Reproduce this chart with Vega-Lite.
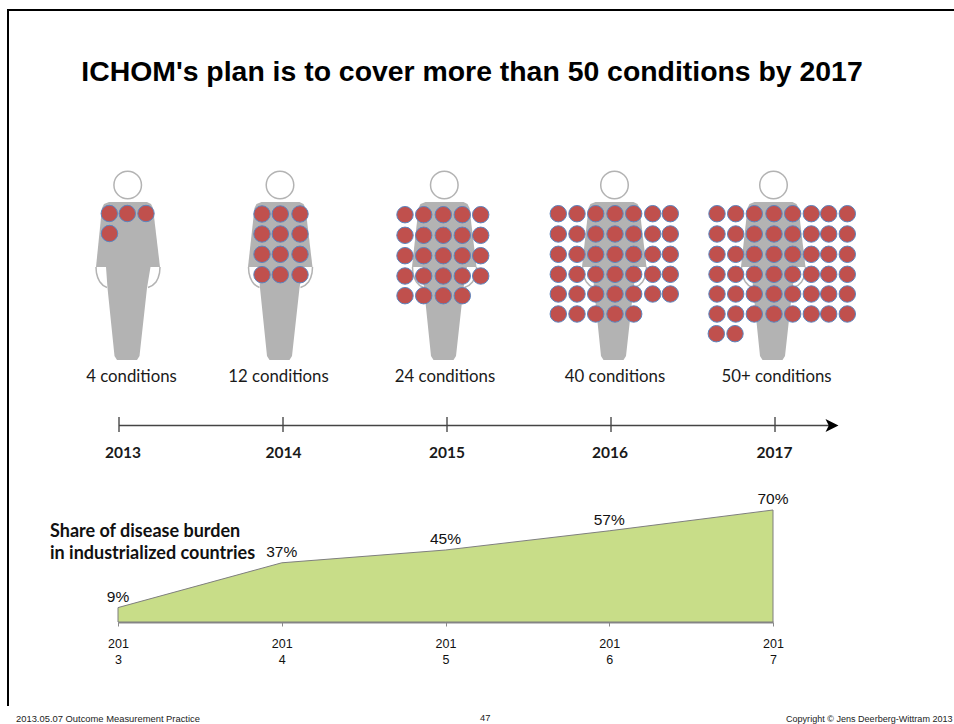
{
  "$schema": "https://vega.github.io/schema/vega-lite/v6.json",
  "width": 954,
  "height": 724,
  "padding": 0,
  "autosize": {"type": "none"},
  "background": "#ffffff",
  "config": {"view": {"stroke": null}},
  "datasets": {
    "frame": [
      {"x": 8, "y": 706, "order": 1},
      {"x": 8, "y": 10, "order": 2},
      {"x": 954, "y": 10, "order": 3}
    ],
    "body": [
      {"year": 2013, "part": "torso", "y": 202, "left": 109, "right": 147},
      {"year": 2013, "part": "torso", "y": 204, "left": 104, "right": 151},
      {"year": 2013, "part": "torso", "y": 208, "left": 102, "right": 153},
      {"year": 2013, "part": "torso", "y": 267, "left": 96, "right": 160},
      {"year": 2013, "part": "legs", "y": 267, "left": 106, "right": 150.5},
      {"year": 2013, "part": "legs", "y": 288, "left": 107.5, "right": 147},
      {"year": 2013, "part": "legs", "y": 356, "left": 114.5, "right": 139.5},
      {"year": 2013, "part": "legs", "y": 360, "left": 117, "right": 137},
      {"year": 2014, "part": "torso", "y": 202, "left": 261.5, "right": 299.5},
      {"year": 2014, "part": "torso", "y": 204, "left": 256.5, "right": 303.5},
      {"year": 2014, "part": "torso", "y": 208, "left": 254.5, "right": 305.5},
      {"year": 2014, "part": "torso", "y": 267, "left": 248, "right": 312.5},
      {"year": 2014, "part": "legs", "y": 267, "left": 258.5, "right": 303},
      {"year": 2014, "part": "legs", "y": 288, "left": 260, "right": 299.5},
      {"year": 2014, "part": "legs", "y": 356, "left": 267, "right": 292},
      {"year": 2014, "part": "legs", "y": 360, "left": 269.5, "right": 289.5},
      {"year": 2015, "part": "torso", "y": 202, "left": 425.5, "right": 463.5},
      {"year": 2015, "part": "torso", "y": 204, "left": 420.5, "right": 467.5},
      {"year": 2015, "part": "torso", "y": 208, "left": 418.5, "right": 469.5},
      {"year": 2015, "part": "torso", "y": 267, "left": 412, "right": 476.5},
      {"year": 2015, "part": "legs", "y": 267, "left": 422.5, "right": 467},
      {"year": 2015, "part": "legs", "y": 288, "left": 424, "right": 463.5},
      {"year": 2015, "part": "legs", "y": 356, "left": 431, "right": 456},
      {"year": 2015, "part": "legs", "y": 360, "left": 433.5, "right": 453.5},
      {"year": 2016, "part": "torso", "y": 202, "left": 595.5, "right": 633.5},
      {"year": 2016, "part": "torso", "y": 204, "left": 590.5, "right": 637.5},
      {"year": 2016, "part": "torso", "y": 208, "left": 588.5, "right": 639.5},
      {"year": 2016, "part": "torso", "y": 267, "left": 582, "right": 646.5},
      {"year": 2016, "part": "legs", "y": 267, "left": 592.5, "right": 637},
      {"year": 2016, "part": "legs", "y": 288, "left": 594, "right": 633.5},
      {"year": 2016, "part": "legs", "y": 356, "left": 601, "right": 626},
      {"year": 2016, "part": "legs", "y": 360, "left": 603.5, "right": 623.5},
      {"year": 2017, "part": "torso", "y": 202, "left": 754.5, "right": 792.5},
      {"year": 2017, "part": "torso", "y": 204, "left": 749.5, "right": 796.5},
      {"year": 2017, "part": "torso", "y": 208, "left": 747.5, "right": 798.5},
      {"year": 2017, "part": "torso", "y": 267, "left": 741, "right": 805.5},
      {"year": 2017, "part": "legs", "y": 267, "left": 751.5, "right": 796},
      {"year": 2017, "part": "legs", "y": 288, "left": 753, "right": 792.5},
      {"year": 2017, "part": "legs", "y": 356, "left": 760, "right": 785},
      {"year": 2017, "part": "legs", "y": 360, "left": 762.5, "right": 782.5}
    ],
    "arms": [
      {"arm": "2013L", "x": 96, "y": 267, "order": 1},
      {"arm": "2013L", "x": 96.5, "y": 273, "order": 2},
      {"arm": "2013L", "x": 100, "y": 282, "order": 3},
      {"arm": "2013L", "x": 107, "y": 287.5, "order": 4},
      {"arm": "2013R", "x": 160, "y": 267, "order": 1},
      {"arm": "2013R", "x": 159.5, "y": 273, "order": 2},
      {"arm": "2013R", "x": 156, "y": 282, "order": 3},
      {"arm": "2013R", "x": 148, "y": 287.5, "order": 4},
      {"arm": "2014L", "x": 248.5, "y": 267, "order": 1},
      {"arm": "2014L", "x": 249, "y": 273, "order": 2},
      {"arm": "2014L", "x": 252.5, "y": 282, "order": 3},
      {"arm": "2014L", "x": 259.5, "y": 287.5, "order": 4},
      {"arm": "2014R", "x": 312.5, "y": 267, "order": 1},
      {"arm": "2014R", "x": 312, "y": 273, "order": 2},
      {"arm": "2014R", "x": 308.5, "y": 282, "order": 3},
      {"arm": "2014R", "x": 300.5, "y": 287.5, "order": 4},
      {"arm": "2015L", "x": 412.5, "y": 267, "order": 1},
      {"arm": "2015L", "x": 413, "y": 273, "order": 2},
      {"arm": "2015L", "x": 416.5, "y": 282, "order": 3},
      {"arm": "2015L", "x": 423.5, "y": 287.5, "order": 4},
      {"arm": "2015R", "x": 476.5, "y": 267, "order": 1},
      {"arm": "2015R", "x": 476, "y": 273, "order": 2},
      {"arm": "2015R", "x": 472.5, "y": 282, "order": 3},
      {"arm": "2015R", "x": 464.5, "y": 287.5, "order": 4},
      {"arm": "2016L", "x": 582.5, "y": 267, "order": 1},
      {"arm": "2016L", "x": 583, "y": 273, "order": 2},
      {"arm": "2016L", "x": 586.5, "y": 282, "order": 3},
      {"arm": "2016L", "x": 593.5, "y": 287.5, "order": 4},
      {"arm": "2016R", "x": 646.5, "y": 267, "order": 1},
      {"arm": "2016R", "x": 646, "y": 273, "order": 2},
      {"arm": "2016R", "x": 642.5, "y": 282, "order": 3},
      {"arm": "2016R", "x": 634.5, "y": 287.5, "order": 4},
      {"arm": "2017L", "x": 741.5, "y": 267, "order": 1},
      {"arm": "2017L", "x": 742, "y": 273, "order": 2},
      {"arm": "2017L", "x": 745.5, "y": 282, "order": 3},
      {"arm": "2017L", "x": 752.5, "y": 287.5, "order": 4},
      {"arm": "2017R", "x": 805.5, "y": 267, "order": 1},
      {"arm": "2017R", "x": 805, "y": 273, "order": 2},
      {"arm": "2017R", "x": 801.5, "y": 282, "order": 3},
      {"arm": "2017R", "x": 793.5, "y": 287.5, "order": 4}
    ],
    "heads": [
      {"year": 2013, "x": 127.7, "y": 185},
      {"year": 2014, "x": 280, "y": 185},
      {"year": 2015, "x": 444.3, "y": 185},
      {"year": 2016, "x": 614.5, "y": 185},
      {"year": 2017, "x": 773.5, "y": 185}
    ],
    "conditions": [
      {"year": 2013, "x": 109.3, "y": 213.5}, {"year": 2013, "x": 127.3, "y": 213.5}, {"year": 2013, "x": 146, "y": 213.5},
      {"year": 2013, "x": 109.5, "y": 233.5},

      {"year": 2014, "x": 262, "y": 214}, {"year": 2014, "x": 280.3, "y": 214}, {"year": 2014, "x": 300, "y": 214},
      {"year": 2014, "x": 262, "y": 234}, {"year": 2014, "x": 280.3, "y": 234}, {"year": 2014, "x": 300, "y": 234},
      {"year": 2014, "x": 262, "y": 254.3}, {"year": 2014, "x": 280.3, "y": 254.3}, {"year": 2014, "x": 300, "y": 254.3},
      {"year": 2014, "x": 262, "y": 274.7}, {"year": 2014, "x": 280.3, "y": 274.7}, {"year": 2014, "x": 300, "y": 274.7},

      {"year": 2015, "x": 405, "y": 214.7}, {"year": 2015, "x": 423.7, "y": 214.7}, {"year": 2015, "x": 443.3, "y": 214.7}, {"year": 2015, "x": 462.3, "y": 214.7}, {"year": 2015, "x": 480.7, "y": 214.7},
      {"year": 2015, "x": 405, "y": 235.3}, {"year": 2015, "x": 423.7, "y": 235.3}, {"year": 2015, "x": 443.3, "y": 235.3}, {"year": 2015, "x": 462.3, "y": 235.3}, {"year": 2015, "x": 480.7, "y": 235.3},
      {"year": 2015, "x": 405, "y": 255.7}, {"year": 2015, "x": 423.7, "y": 255.7}, {"year": 2015, "x": 443.3, "y": 255.7}, {"year": 2015, "x": 462.3, "y": 255.7}, {"year": 2015, "x": 480.7, "y": 255.7},
      {"year": 2015, "x": 405, "y": 276}, {"year": 2015, "x": 423.7, "y": 276}, {"year": 2015, "x": 443.3, "y": 276}, {"year": 2015, "x": 462.3, "y": 276}, {"year": 2015, "x": 480.7, "y": 276},
      {"year": 2015, "x": 405, "y": 295.7}, {"year": 2015, "x": 423.7, "y": 295.7}, {"year": 2015, "x": 443.3, "y": 295.7}, {"year": 2015, "x": 462.3, "y": 295.7},

      {"year": 2016, "x": 558.3, "y": 213.7}, {"year": 2016, "x": 577, "y": 213.7}, {"year": 2016, "x": 595.7, "y": 213.7}, {"year": 2016, "x": 615, "y": 213.7}, {"year": 2016, "x": 633.7, "y": 213.7}, {"year": 2016, "x": 652.7, "y": 213.7}, {"year": 2016, "x": 670.3, "y": 213.7},
      {"year": 2016, "x": 558.3, "y": 234}, {"year": 2016, "x": 577, "y": 234}, {"year": 2016, "x": 595.7, "y": 234}, {"year": 2016, "x": 615, "y": 234}, {"year": 2016, "x": 633.7, "y": 234}, {"year": 2016, "x": 652.7, "y": 234}, {"year": 2016, "x": 670.3, "y": 234},
      {"year": 2016, "x": 558.3, "y": 254.3}, {"year": 2016, "x": 577, "y": 254.3}, {"year": 2016, "x": 595.7, "y": 254.3}, {"year": 2016, "x": 615, "y": 254.3}, {"year": 2016, "x": 633.7, "y": 254.3}, {"year": 2016, "x": 652.7, "y": 254.3}, {"year": 2016, "x": 670.3, "y": 254.3},
      {"year": 2016, "x": 558.3, "y": 274.3}, {"year": 2016, "x": 577, "y": 274.3}, {"year": 2016, "x": 595.7, "y": 274.3}, {"year": 2016, "x": 615, "y": 274.3}, {"year": 2016, "x": 633.7, "y": 274.3}, {"year": 2016, "x": 652.7, "y": 274.3}, {"year": 2016, "x": 670.3, "y": 274.3},
      {"year": 2016, "x": 558.3, "y": 294}, {"year": 2016, "x": 577, "y": 294}, {"year": 2016, "x": 595.7, "y": 294}, {"year": 2016, "x": 615, "y": 294}, {"year": 2016, "x": 633.7, "y": 294}, {"year": 2016, "x": 652.7, "y": 294}, {"year": 2016, "x": 670.3, "y": 294},
      {"year": 2016, "x": 558.3, "y": 314}, {"year": 2016, "x": 577, "y": 314}, {"year": 2016, "x": 595.7, "y": 314}, {"year": 2016, "x": 615, "y": 314}, {"year": 2016, "x": 633.7, "y": 314},

      {"year": 2017, "x": 717, "y": 213.7}, {"year": 2017, "x": 735.7, "y": 213.7}, {"year": 2017, "x": 754.3, "y": 213.7}, {"year": 2017, "x": 774, "y": 213.7}, {"year": 2017, "x": 792.7, "y": 213.7}, {"year": 2017, "x": 811.3, "y": 213.7}, {"year": 2017, "x": 828.7, "y": 213.7}, {"year": 2017, "x": 847.3, "y": 213.7},
      {"year": 2017, "x": 717, "y": 234}, {"year": 2017, "x": 735.7, "y": 234}, {"year": 2017, "x": 754.3, "y": 234}, {"year": 2017, "x": 774, "y": 234}, {"year": 2017, "x": 792.7, "y": 234}, {"year": 2017, "x": 811.3, "y": 234}, {"year": 2017, "x": 828.7, "y": 234}, {"year": 2017, "x": 847.3, "y": 234},
      {"year": 2017, "x": 717, "y": 254.3}, {"year": 2017, "x": 735.7, "y": 254.3}, {"year": 2017, "x": 754.3, "y": 254.3}, {"year": 2017, "x": 774, "y": 254.3}, {"year": 2017, "x": 792.7, "y": 254.3}, {"year": 2017, "x": 811.3, "y": 254.3}, {"year": 2017, "x": 828.7, "y": 254.3}, {"year": 2017, "x": 847.3, "y": 254.3},
      {"year": 2017, "x": 717, "y": 274.3}, {"year": 2017, "x": 735.7, "y": 274.3}, {"year": 2017, "x": 754.3, "y": 274.3}, {"year": 2017, "x": 774, "y": 274.3}, {"year": 2017, "x": 792.7, "y": 274.3}, {"year": 2017, "x": 811.3, "y": 274.3}, {"year": 2017, "x": 828.7, "y": 274.3}, {"year": 2017, "x": 847.3, "y": 274.3},
      {"year": 2017, "x": 717, "y": 294}, {"year": 2017, "x": 735.7, "y": 294}, {"year": 2017, "x": 754.3, "y": 294}, {"year": 2017, "x": 774, "y": 294}, {"year": 2017, "x": 792.7, "y": 294}, {"year": 2017, "x": 811.3, "y": 294}, {"year": 2017, "x": 828.7, "y": 294}, {"year": 2017, "x": 847.3, "y": 294},
      {"year": 2017, "x": 717, "y": 314}, {"year": 2017, "x": 735.7, "y": 314}, {"year": 2017, "x": 754.3, "y": 314}, {"year": 2017, "x": 774, "y": 314}, {"year": 2017, "x": 792.7, "y": 314}, {"year": 2017, "x": 811.3, "y": 314}, {"year": 2017, "x": 828.7, "y": 314}, {"year": 2017, "x": 847.3, "y": 314},
      {"year": 2017, "x": 716.3, "y": 333.7}, {"year": 2017, "x": 735, "y": 333.7}
    ],
    "timeline": [
      {"year": "2013", "caption": "4 conditions", "captionAt": 131.5, "tickAt": 119, "yearAt": 123},
      {"year": "2014", "caption": "12 conditions", "captionAt": 278.5, "tickAt": 283, "yearAt": 283.5},
      {"year": "2015", "caption": "24 conditions", "captionAt": 445, "tickAt": 447, "yearAt": 447},
      {"year": "2016", "caption": "40 conditions", "captionAt": 615, "tickAt": 611, "yearAt": 610},
      {"year": "2017", "caption": "50+ conditions", "captionAt": 776.5, "tickAt": 775, "yearAt": 774.5}
    ],
    "share": [
      {"year": 2013, "share": 0.09},
      {"year": 2014, "share": 0.37},
      {"year": 2015, "share": 0.45},
      {"year": 2016, "share": 0.57},
      {"year": 2017, "share": 0.70}
    ],
    "texts": [
      {"text": "ICHOM's plan is to cover more than 50 conditions by 2017", "x": 472, "y": 81, "kind": "title"},
      {"text": "Share of disease burden", "x": 50, "y": 537, "kind": "note"},
      {"text": "in industrialized countries", "x": 50, "y": 559, "kind": "note"},
      {"text": "2013.05.07 Outcome Measurement Practice", "x": 16, "y": 722, "kind": "footer"},
      {"text": "47", "x": 480, "y": 720.5, "kind": "footer"},
      {"text": "Copyright © Jens Deerberg-Wittram 2013", "x": 786, "y": 722, "kind": "copyright"}
    ]
  },
  "resolve": {"scale": {"x": "independent", "y": "independent"}},
  "layer": [
    {
      "layer": [
        {
          "data": {"name": "frame"},
          "mark": {"type": "line", "color": "#000000", "strokeWidth": 2},
          "encoding": {
            "x": {"field": "x", "type": "quantitative", "scale": {"domain": [0, 954], "nice": false, "zero": false}, "axis": null},
            "y": {"field": "y", "type": "quantitative", "scale": {"domain": [724, 0], "nice": false, "zero": false}, "axis": null},
            "order": {"field": "order"}
          }
        },
        {
          "data": {"name": "body"},
          "mark": {"type": "area", "orient": "horizontal", "color": "#b3b3b3"},
          "encoding": {
            "y": {"field": "y", "type": "quantitative"},
            "x": {"field": "left", "type": "quantitative"},
            "x2": {"field": "right"},
            "detail": [{"field": "year"}, {"field": "part"}]
          }
        },
        {
          "data": {"name": "arms"},
          "mark": {"type": "line", "color": "#b3b3b3", "strokeWidth": 1.5, "interpolate": "monotone"},
          "encoding": {
            "x": {"field": "x", "type": "quantitative"},
            "y": {"field": "y", "type": "quantitative"},
            "detail": {"field": "arm"},
            "order": {"field": "order"}
          }
        },
        {
          "data": {"name": "heads"},
          "mark": {"type": "point", "shape": "circle", "filled": true, "fill": "#ffffff", "stroke": "#b3b3b3", "strokeWidth": 1.5, "size": 760, "opacity": 1},
          "encoding": {
            "x": {"field": "x", "type": "quantitative"},
            "y": {"field": "y", "type": "quantitative"}
          }
        },
        {
          "data": {"name": "conditions"},
          "mark": {"type": "point", "shape": "circle", "filled": true, "fill": "#c0504d", "stroke": "#5b85bf", "strokeWidth": 1, "size": 270, "opacity": 1},
          "encoding": {
            "x": {"field": "x", "type": "quantitative"},
            "y": {"field": "y", "type": "quantitative"}
          }
        },
        {
          "data": {"name": "timeline"},
          "mark": {"type": "text", "font": "Lato", "fontSize": 16.8, "color": "#1a1a1a"},
          "encoding": {
            "x": {"field": "captionAt", "type": "quantitative"},
            "y": {"datum": 377, "type": "quantitative"},
            "text": {"field": "caption"}
          }
        },
        {
          "data": {"name": "timeline"},
          "mark": {"type": "rule", "color": "#000000", "strokeWidth": 1},
          "encoding": {
            "x": {"field": "tickAt", "type": "quantitative"},
            "y": {"datum": 417, "type": "quantitative"},
            "y2": {"datum": 432}
          }
        },
        {
          "data": {"values": [{"from": 119, "to": 832}]},
          "mark": {"type": "rule", "color": "#444444", "strokeWidth": 1.3},
          "encoding": {
            "x": {"field": "from", "type": "quantitative"},
            "x2": {"field": "to"},
            "y": {"datum": 425.5, "type": "quantitative"}
          }
        },
        {
          "data": {"values": [{"tip": 832}]},
          "mark": {"type": "point", "shape": "M-1,-1L1,0L-1,1L-0.5,0Z", "filled": true, "color": "#000000", "size": 169, "opacity": 1},
          "encoding": {
            "x": {"field": "tip", "type": "quantitative"},
            "y": {"datum": 425.5, "type": "quantitative"}
          }
        },
        {
          "data": {"name": "timeline"},
          "mark": {"type": "text", "font": "Lato", "fontSize": 15.5, "fontWeight": "bold", "color": "#1a1a1a"},
          "encoding": {
            "x": {"field": "yearAt", "type": "quantitative"},
            "y": {"datum": 453, "type": "quantitative"},
            "text": {"field": "year"}
          }
        },
        {
          "data": {"name": "texts"},
          "transform": [{"filter": "datum.kind === 'title'"}],
          "mark": {"type": "text", "font": "Liberation Sans", "fontSize": 28.4, "fontWeight": "bold", "color": "#000000", "baseline": "alphabetic"},
          "encoding": {
            "x": {"field": "x", "type": "quantitative"},
            "y": {"field": "y", "type": "quantitative"},
            "text": {"field": "text"}
          }
        },
        {
          "data": {"name": "texts"},
          "transform": [{"filter": "datum.kind === 'note'"}],
          "mark": {"type": "text", "font": "Lato", "fontSize": 18, "fontWeight": "bold", "color": "#111111", "align": "left", "baseline": "alphabetic"},
          "encoding": {
            "x": {"field": "x", "type": "quantitative"},
            "y": {"field": "y", "type": "quantitative"},
            "text": {"field": "text"}
          }
        },
        {
          "data": {"name": "texts"},
          "transform": [{"filter": "datum.kind === 'footer'"}],
          "mark": {"type": "text", "font": "Liberation Sans", "fontSize": 9.4, "color": "#222222", "align": "left", "baseline": "alphabetic"},
          "encoding": {
            "x": {"field": "x", "type": "quantitative"},
            "y": {"field": "y", "type": "quantitative"},
            "text": {"field": "text"}
          }
        },
        {
          "data": {"name": "texts"},
          "transform": [{"filter": "datum.kind === 'copyright'"}],
          "mark": {"type": "text", "font": "Liberation Sans", "fontSize": 9.05, "color": "#222222", "align": "left", "baseline": "alphabetic"},
          "encoding": {
            "x": {"field": "x", "type": "quantitative"},
            "y": {"field": "y", "type": "quantitative"},
            "text": {"field": "text"}
          }
        }
      ]
    },
    {
      "data": {"name": "share"},
      "layer": [
        {
          "mark": {"type": "area", "fill": "#c8dd88", "stroke": "#7f7f7f", "strokeWidth": 1},
          "encoding": {
            "x": {
              "field": "year",
              "type": "quantitative",
              "scale": {"domain": [2013, 2017], "range": [118, 773], "nice": false, "zero": false},
              "axis": {
                "orient": "bottom",
                "offset": -102,
                "title": null,
                "values": [2013, 2014, 2015, 2016, 2017],
                "format": "d",
                "grid": false,
                "domainColor": "#8a8a8a",
                "domainWidth": 2,
                "tickColor": "#8a8a8a",
                "tickSize": 4,
                "labelFlush": false,
                "labelOverlap": false,
                "labelFont": "Liberation Sans",
                "labelFontSize": 12.5,
                "labelColor": "#111111",
                "labelPadding": 11,
                "labelLineHeight": 16,
                "labelExpr": "[slice(datum.label, 0, 3), slice(datum.label, 3)]"
              }
            },
            "y": {
              "field": "share",
              "type": "quantitative",
              "scale": {"domain": [0, 0.7], "range": [622, 510], "nice": false},
              "axis": null
            }
          }
        },
        {
          "mark": {"type": "text", "font": "Liberation Sans", "fontSize": 15.5, "color": "#111111", "baseline": "alphabetic", "dy": -6},
          "encoding": {
            "x": {"field": "year", "type": "quantitative"},
            "y": {"field": "share", "type": "quantitative"},
            "text": {"field": "share", "type": "quantitative", "format": ".0%"}
          }
        }
      ]
    }
  ]
}
